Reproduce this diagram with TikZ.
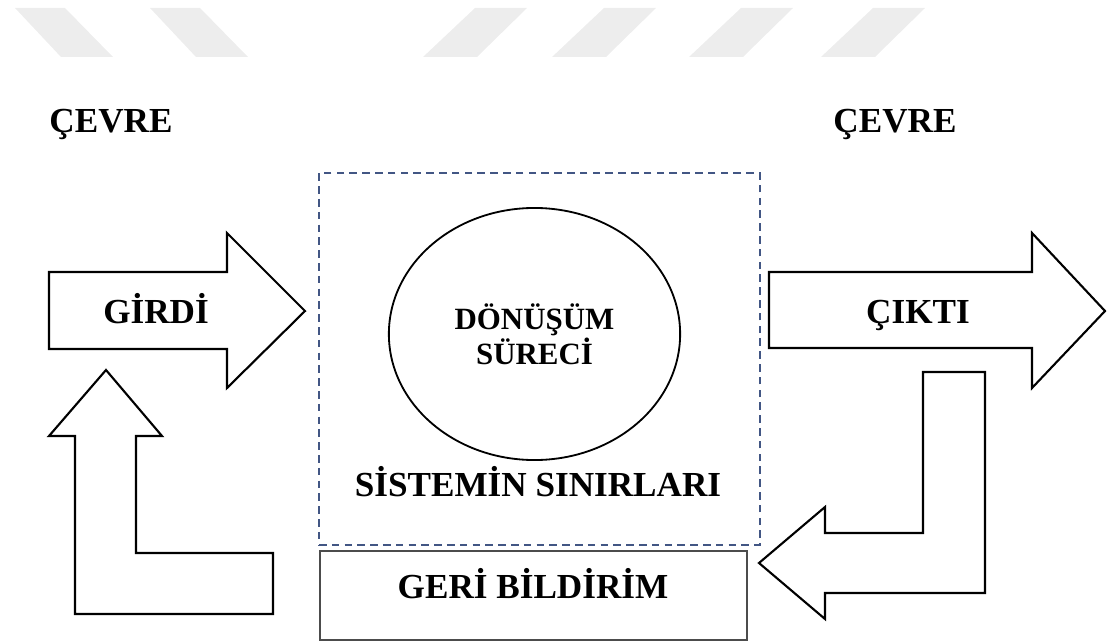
\documentclass[tikz,border=0pt]{standalone}
\usepackage{fontspec}
\setmainfont{Liberation Serif}
\usetikzlibrary{shapes.geometric,positioning}
\definecolor{sinirmavi}{RGB}{66,86,132}
\tikzset{blokok/.style={draw=black,line width=1.5pt,fill=white,line join=miter}}
\tikzset{etiket/.style={font=\bfseries\fontsize{25}{28}\selectfont,inner sep=0pt,anchor=base}}
\tikzset{filigran/.style={fill=black!7,draw=none}}

\begin{document}
\begin{tikzpicture}[x=0.025cm,y=-0.025cm]
		\useasboundingbox (0,0) rectangle (1108,643);
		
		% watermark stripes
		\foreach \x in {15,150}
		\fill[filigran] (\x,8) -- (\x+50,8) -- (\x+98,57) -- (\x+46,57) -- cycle;
		\foreach \x in {475,604,741,873}
		\fill[filigran] (\x,8) -- (\x+52,8) -- (\x+2,57) -- (\x-52,57) -- cycle;
		
		\node[etiket] (cevresol) at (111,133) {ÇEVRE};
		\node[etiket] (cevresag) at (895,133) {ÇEVRE};
		
		% system boundary
		\node[draw=sinirmavi, line width=1.6pt, dash pattern=on 0.19cm off 0.13cm,
		minimum width=11.025cm, minimum height=9.3cm, inner sep=0pt] (sinir) at (539.5,359) {};
		\node[draw, ellipse, line width=1.3pt, minimum width=7.28cm, minimum height=6.3cm,
		align=center, font=\bfseries\fontsize{22}{25}\selectfont] (surec) at (534.5,334) {DÖNÜŞÜM\\SÜRECİ};
		\node[etiket] (sinirlar) at (538,496) {SİSTEMİN SINIRLARI};
		
		\node[draw=black!70, line width=1.1pt, minimum width=10.675cm, minimum height=2.225cm,
		inner sep=0pt] (geri) at (533.5,595.5) {};
		\node[etiket] (geritext) at (533,598) {GERİ BİLDİRİM};
		
		% block arrows
		\draw[blokok] (49,272) -- (227,272) -- (227,233) -- (305,311) -- (227,388) -- (227,349) -- (49,349) -- cycle;
		\node[etiket] (girdi) at (156,323) {GİRDİ};
		\draw[blokok] (769,272) -- (1032,272) -- (1032,233) -- (1105,311) -- (1032,388) -- (1032,348) -- (769,348) -- cycle;
		\node[etiket] (cikti) at (918,323) {ÇIKTI};
		\draw[blokok] (75,436) -- (75,614) -- (273,614) -- (273,553) -- (136,553) -- (136,436) -- (162,436) -- (106,370) -- (49,436) -- cycle;
		\draw[blokok] (923,372) -- (985,372) -- (985,593) -- (825,593) -- (825,619) -- (759,563) -- (825,507) -- (825,533) -- (923,533) -- cycle;
		
\end{tikzpicture}
\end{document}
